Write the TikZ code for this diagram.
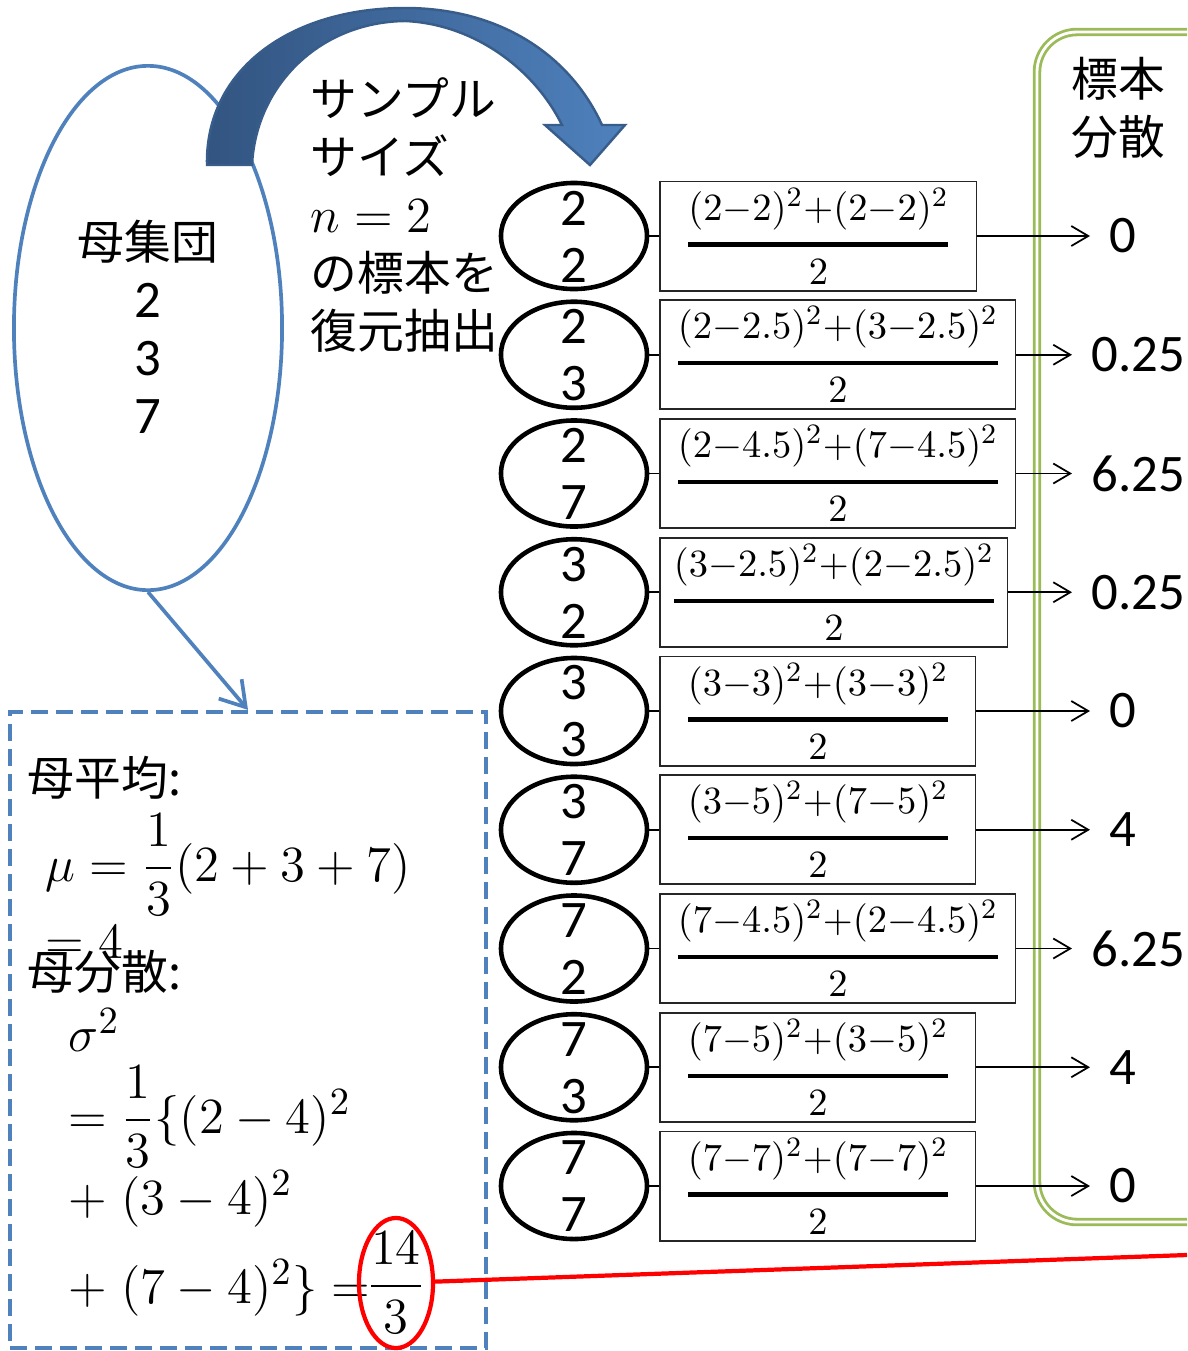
\documentclass[tikz,border=0pt]{standalone}
\usepackage{amsmath}
\usepackage{fontspec}
\setmainfont{Carlito}
\newfontfamily\jp{Noto Sans CJK JP}
\usetikzlibrary{shapes.geometric,positioning,arrows.meta}
\definecolor{popblue}{RGB}{79,129,189}
\definecolor{popedge}{RGB}{56,93,138}
\definecolor{arrowdark}{RGB}{50,84,128}
\definecolor{olivegreen}{RGB}{155,187,89}
\newcommand{\bigtext}{\fontsize{15}{16.5}\selectfont}
\newcommand{\jptext}{\fontsize{13.3}{16.5}\selectfont\jp}
\newcommand{\fractext}{\fontsize{10.8}{12}\selectfont}
\tikzstyle{popell}=[ellipse, draw=popblue, line width=1.05pt, minimum width=2.68cm, minimum height=5.24cm, inner sep=0pt]
\tikzstyle{sampell}=[ellipse, draw=black, line width=1.3pt, minimum width=1.46cm, minimum height=1.06cm, inner sep=0pt]
\tikzstyle{digit}=[inner sep=0pt, font=\bigtext]
\tikzstyle{fracbox}=[rectangle, draw=black!85, line width=0.55pt, minimum height=1.09cm, inner sep=0pt, font=\fractext]
\tikzstyle{val}=[anchor=west, inner xsep=0.19cm, inner ysep=0pt, font=\bigtext]
\tikzstyle{annot}=[align=left, anchor=west, inner sep=0pt, font=\bigtext]
\tikzstyle{statbox}=[rectangle, draw=popblue, line width=1.1pt, dash pattern=on 0.17cm off 0.08cm, minimum width=4.76cm, minimum height=6.36cm]
\tikzstyle{hilite}=[ellipse, draw=red, line width=1.2pt, minimum width=0.74cm, minimum height=1.30cm, inner sep=0pt]
\tikzstyle{varframe}=[draw=olivegreen, line width=0.8pt, double=white, double distance=0.8pt, rounded corners=0.4cm]
\tikzset{>={Straight Barb[length=0.17cm,width=0.2cm]}}

\begin{document}
\begin{tikzpicture}[x=0.01cm, y=-0.01cm]
	\useasboundingbox (0,0) rectangle (1187,1351);
	\clip (0,0) rectangle (1187,1351);

	% population
	\node[popell] (pop) at (148,328) {};
	\node[align=center, inner sep=0pt, font=\bigtext] (poptext) at (148,327) {{\jptext 母集団}\\2\\3\\7};

	% curved block arrow
	\path[left color=arrowdark, right color=popblue, draw=popedge, line width=0.7pt]
		(207,165) .. controls (205,70) and (290,8) .. (405,8)
		.. controls (500,8) and (570,55) .. (602,125)
		-- (625,125) -- (590,165) -- (545,125) -- (562,125)
		.. controls (535,70) and (475,24) .. (405,21)
		.. controls (320,22) and (256,85) .. (252,165) -- cycle;

	\node[annot, font=\jptext] (howto) at (310,215) {サンプル\\サイズ\\{\bigtext$n=2$}\\の標本を\\復元抽出};

	% sample variance column
	\draw[varframe] (1037,32) rectangle (1240,1222);
	\node[align=center, inner sep=0pt, font=\jptext] (vartitle) at (1118,108) {標本\\分散};

	\foreach \i/\a/\b/\num/\w/\val/\tip in {
		1/2/2/{(2{-}2)^2{+}(2{-}2)^2}/3.16/0/1090,
		2/2/3/{(2{-}2.5)^2{+}(3{-}2.5)^2}/3.55/0.25/1072,
		3/2/7/{(2{-}4.5)^2{+}(7{-}4.5)^2}/3.55/6.25/1072,
		4/3/2/{(3{-}2.5)^2{+}(2{-}2.5)^2}/3.47/0.25/1072,
		5/3/3/{(3{-}3)^2{+}(3{-}3)^2}/3.15/0/1090,
		6/3/7/{(3{-}5)^2{+}(7{-}5)^2}/3.15/4/1090,
		7/7/2/{(7{-}4.5)^2{+}(2{-}4.5)^2}/3.55/6.25/1072,
		8/7/3/{(7{-}5)^2{+}(3{-}5)^2}/3.15/4/1090,
		9/7/7/{(7{-}7)^2{+}(7{-}7)^2}/3.15/0/1090}
	{
		\pgfmathsetmacro{\y}{236+118.75*(\i-1)}
		\node[sampell] (s\i) at (574,\y) {};
		\node[digit] (s\i top) at ([yshift=0.28cm]s\i.center) {\a};
		\node[digit] (s\i bot) at ([yshift=-0.29cm]s\i.center) {\b};
		\node[fracbox, minimum width=\w cm, right=0.1cm of s\i] (f\i) {$\genfrac{}{}{1.2pt}{0}{\num}{2}$};
		\node[val] (v\i) at (\tip,\y) {\val};
		\draw[line width=0.5pt] (s\i) -- (f\i);
		\draw[->, line width=0.5pt] (f\i) -- (v\i);
	}

	% population mean and variance
	\node[statbox] (stats) at (248,1030) {};
	\draw[popblue, line width=1.05pt, -{Straight Barb[length=0.24cm,width=0.3cm]}] (pop.south) -- (stats.north);

	\node[annot, font=\jptext] (meantitle) at (27,778) {母平均:};
	\node[annot] (mueq) at (45,865) {$\mu = \dfrac{1}{3}(2+3+7)$};
	\node[annot] (mures) at (45,942) {$=4$};
	\node[annot, font=\jptext] (vartitle2) at (27,972) {母分散:};
	\node[annot] (sig) at (68,1030) {$\sigma^2$};
	\node[annot] (sigline1) at (68,1117) {$=\dfrac{1}{3}\{(2-4)^2$};
	\node[annot] (sigline2) at (68,1199) {$+\;(3-4)^2$};
	\node[annot] (sigline3) at (68,1288) {$+\;(7-4)^2\}=$};
	\node[inner sep=0pt, font=\bigtext] (sigval) at (396,1283) {$\dfrac{14}{3}$};
	\node[hilite] (hl) at (396,1283) {};
	\coordinate (redend) at (1187,1255);
	\draw[red, line width=1.2pt] (hl) -- (redend);
\end{tikzpicture}
\end{document}
